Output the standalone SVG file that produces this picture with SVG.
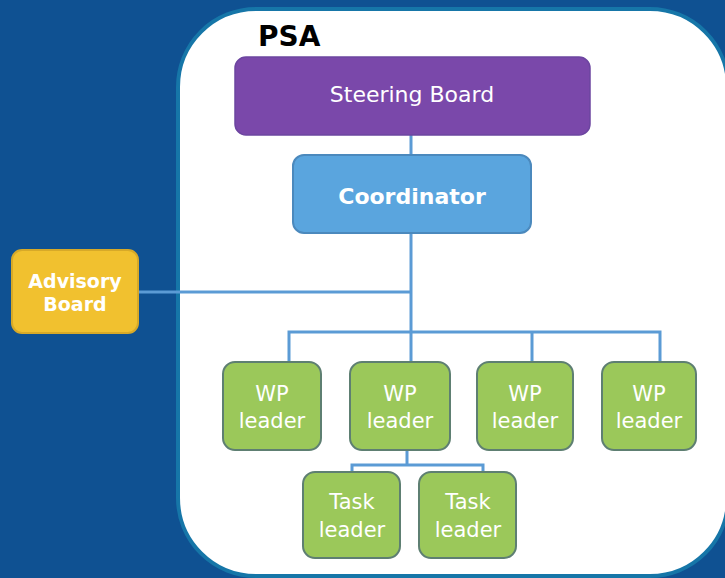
<svg xmlns="http://www.w3.org/2000/svg" width="725" height="578" viewBox="0 0 725 578">
  <style>
    .link { stroke: #5b9bd5; stroke-width: 3; fill: none; }
    .wp rect { fill: #9bc85a; stroke: #5e7f72; stroke-width: 2; }
    .lbl { font-family: "DejaVu Sans", Verdana, sans-serif; fill: #ffffff; text-anchor: middle; }
    .green { font-size: 21px; }
  </style>
  <!-- backdrop and framing panel -->
  <rect x="0" y="0" width="725" height="578" fill="#0f5192"/>
  <rect x="178" y="9" width="550" height="567" rx="78" ry="78" fill="#ffffff" stroke="#1676a8" stroke-width="4"/>
  <text x="258" y="46" font-family="DejaVu Sans, Verdana, sans-serif" font-weight="bold" font-size="28" fill="#000000">PSA</text>

  <g id="connectors">
    <line class="link" x1="411" y1="135" x2="411" y2="155"/>
    <line class="link" x1="411" y1="233" x2="411" y2="332"/>
    <line class="link" x1="138" y1="292" x2="411" y2="292"/>
    <polyline class="link" points="289,362 289,332 660,332 660,362"/>
    <line class="link" x1="411" y1="332" x2="411" y2="362"/>
    <line class="link" x1="532" y1="332" x2="532" y2="362"/>
    <line class="link" x1="407" y1="450" x2="407" y2="465"/>
    <polyline class="link" points="352,472 352,465 483,465 483,472"/>
  </g>

  <g id="steering-board">
    <rect x="235" y="57" width="355" height="78" rx="11" fill="#7a48aa" stroke="#6c45a0" stroke-width="1.5"/>
    <text class="lbl" x="412" y="102" font-size="22" fill="#f2eaf7">Steering Board</text>
  </g>

  <g id="coordinator">
    <rect x="293" y="155" width="238" height="78" rx="11" fill="#5aa5de" stroke="#4b89bd" stroke-width="2"/>
    <text class="lbl" x="412" y="204" font-size="22" font-weight="bold">Coordinator</text>
  </g>

  <g id="advisory-board">
    <rect x="12" y="250" width="126" height="83" rx="10" fill="#f1c12f" stroke="#d7a928" stroke-width="2"/>
    <text class="lbl" x="75" y="288" font-size="19" font-weight="bold">Advisory</text>
    <text class="lbl" x="75" y="311" font-size="19" font-weight="bold">Board</text>
  </g>

  <g id="wp-leader-1" class="wp">
    <rect x="223" y="362" width="98" height="88" rx="12"/>
    <text class="lbl green" x="272" y="401">WP</text>
    <text class="lbl green" x="272" y="428">leader</text>
  </g>
  <g id="wp-leader-2" class="wp">
    <rect x="350" y="362" width="100" height="88" rx="12"/>
    <text class="lbl green" x="400" y="401">WP</text>
    <text class="lbl green" x="400" y="428">leader</text>
  </g>
  <g id="wp-leader-3" class="wp">
    <rect x="477" y="362" width="96" height="88" rx="12"/>
    <text class="lbl green" x="525" y="401">WP</text>
    <text class="lbl green" x="525" y="428">leader</text>
  </g>
  <g id="wp-leader-4" class="wp">
    <rect x="602" y="362" width="94" height="88" rx="12"/>
    <text class="lbl green" x="649" y="401">WP</text>
    <text class="lbl green" x="649" y="428">leader</text>
  </g>

  <g id="task-leader-1" class="wp">
    <rect x="303" y="472" width="97" height="86" rx="12"/>
    <text class="lbl green" x="352" y="509">Task</text>
    <text class="lbl green" x="352" y="537">leader</text>
  </g>
  <g id="task-leader-2" class="wp">
    <rect x="419" y="472" width="97" height="86" rx="12"/>
    <text class="lbl green" x="468" y="509">Task</text>
    <text class="lbl green" x="468" y="537">leader</text>
  </g>
</svg>
